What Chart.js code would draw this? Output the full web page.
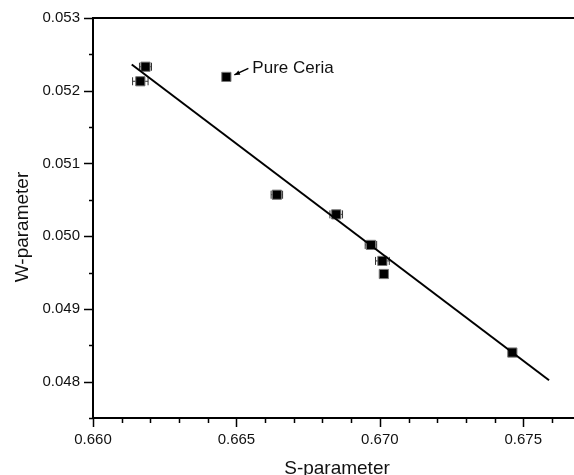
<!DOCTYPE html>
<html>
<head>
<meta charset="utf-8">
<script src="https://cdn.jsdelivr.net/npm/chart.js@4"></script>
<style>
  html, body { margin: 0; padding: 0; background: #fff; }
  canvas { display: block; }
</style>
</head>
<body>
<canvas id="graficoSW" width="574" height="475"></canvas>
<script>
// S and W parameters of each sample, with their uncertainties
const sParam = [0.66183, 0.66165, 0.66465, 0.66641, 0.66848, 0.66969, 0.67009, 0.67014, 0.67462];
const wParam = [0.05233, 0.05213, 0.05219, 0.05057, 0.05030, 0.04988, 0.04966, 0.04948, 0.04840];
const sErr = [0.00021, 0.00027, 0.00010, 0.00020, 0.00022, 0.00020, 0.00024, 0, 0.00010];
const wErr = [0.00005, 0.00005, 0.00003, 0.00005, 0.00005, 0.00004, 0.00005, 0, 0.00003];

// linear fit, end points
const fitS = [0.66135, 0.67590];
const fitW = [0.05236, 0.04802];

// sample pointed at by the label
const labelIndex = 2;
const labelText = "Pure Ceria";

const fontFamily = "'Liberation Sans', Arial, sans-serif";
const textColor = "#111";

const extras = {
    id: "extras",
    beforeDatasetsDraw(chart) {
        const ctx = chart.ctx;
        const xs = chart.scales.x, ys = chart.scales.y;
        ctx.save();
        ctx.strokeStyle = "#333";
        ctx.lineWidth = 1;
        for (let i = 0; i < sParam.length; i++) {
            const px = xs.getPixelForValue(sParam[i]);
            const py = ys.getPixelForValue(wParam[i]);
            if (sErr[i] > 0) {
                const x1 = xs.getPixelForValue(sParam[i] - sErr[i]);
                const x2 = xs.getPixelForValue(sParam[i] + sErr[i]);
                ctx.beginPath();
                ctx.moveTo(x1, py); ctx.lineTo(x2, py);
                ctx.moveTo(x1, py - 4); ctx.lineTo(x1, py + 4);
                ctx.moveTo(x2, py - 4); ctx.lineTo(x2, py + 4);
                ctx.stroke();
            }
            if (wErr[i] > 0) {
                const y1 = ys.getPixelForValue(wParam[i] + wErr[i]);
                const y2 = ys.getPixelForValue(wParam[i] - wErr[i]);
                ctx.beginPath();
                ctx.moveTo(px, y1); ctx.lineTo(px, y2);
                ctx.moveTo(px - 4, y1); ctx.lineTo(px + 4, y1);
                ctx.moveTo(px - 4, y2); ctx.lineTo(px + 4, y2);
                ctx.stroke();
            }
        }
        ctx.restore();
    },
    afterDraw(chart) {
        const ctx = chart.ctx;
        const area = chart.chartArea;
        const xs = chart.scales.x, ys = chart.scales.y;
        ctx.save();
        ctx.strokeStyle = "#000";
        ctx.lineWidth = 2;

        // frame top
        ctx.beginPath();
        ctx.moveTo(area.left - 1, area.top);
        ctx.lineTo(area.right, area.top);
        ctx.stroke();

        // tick marks, major and minor
        ctx.lineWidth = 1.5;
        ctx.beginPath();
        for (let k = 0; k <= 11; k++) {
            const v = (475 + 5 * k) / 10000;
            const py = Math.round(ys.getPixelForValue(v)) + 0.5;
            const len = k % 2 === 1 ? 9 : 4;
            ctx.moveTo(area.left, py);
            ctx.lineTo(area.left - len, py);
        }
        for (let k = 0; k <= 16; k++) {
            const v = (660 + k) / 1000;
            const px = Math.round(xs.getPixelForValue(v)) + 0.5;
            const len = k % 5 === 0 ? 9 : 5;
            ctx.moveTo(px, area.bottom);
            ctx.lineTo(px, area.bottom + len);
        }
        ctx.stroke();

        // axis titles
        ctx.fillStyle = textColor;
        ctx.font = "19px " + fontFamily;
        ctx.textAlign = "center";
        ctx.textBaseline = "alphabetic";
        ctx.fillText("S-parameter", 337, 474);
        ctx.save();
        ctx.translate(28, 227);
        ctx.rotate(-Math.PI / 2);
        ctx.fillText("W-parameter", 0, 0);
        ctx.restore();

        // arrow label
        const mx = xs.getPixelForValue(sParam[labelIndex]);
        const my = ys.getPixelForValue(wParam[labelIndex]);
        const tx = mx + 22, ty = my - 8.5;
        const hx = mx + 8, hy = my - 2;
        ctx.lineWidth = 1.5;
        ctx.beginPath();
        ctx.moveTo(tx, ty);
        ctx.lineTo(hx, hy);
        ctx.stroke();
        const ang = Math.atan2(hy - ty, hx - tx);
        ctx.beginPath();
        ctx.moveTo(hx, hy);
        ctx.lineTo(hx - 6 * Math.cos(ang - 0.4), hy - 6 * Math.sin(ang - 0.4));
        ctx.lineTo(hx - 6 * Math.cos(ang + 0.4), hy - 6 * Math.sin(ang + 0.4));
        ctx.closePath();
        ctx.fillStyle = "#000";
        ctx.fill();
        ctx.fillStyle = textColor;
        ctx.font = "17px " + fontFamily;
        ctx.textAlign = "left";
        ctx.textBaseline = "middle";
        ctx.fillText(labelText, mx + 26, my - 9);
        ctx.restore();
    }
};

const pontos = sParam.map((s, i) => ({ x: s, y: wParam[i] }));
const reta = fitS.map((s, i) => ({ x: s, y: fitW[i] }));

function multipleOf(v, step) {
    const r = v / step;
    return Math.abs(r - Math.round(r)) < 1e-6;
}

// tick marks come from the plugin; the invisible grid ticks only push the labels out
const hiddenGrid = {
    display: true,
    drawOnChartArea: false,
    drawTicks: true,
    tickLength: 13,
    tickColor: "rgba(0,0,0,0)",
};

new Chart(document.getElementById("graficoSW").getContext("2d"), {
    type: "scatter",
    data: {
        datasets: [
            {
                label: "ajuste",
                type: "line",
                data: reta,
                borderColor: "#000",
                borderWidth: 2,
                pointRadius: 0,
                fill: false,
            },
            {
                label: "amostras",
                data: pontos,
                pointStyle: "rect",
                pointRadius: 6.5,
                backgroundColor: "#000",
                borderColor: "#777",
                borderWidth: 1,
            },
        ],
    },
    options: {
        responsive: false,
        animation: false,
        devicePixelRatio: 1,
        layout: {
            autoPadding: false,
            padding: { top: 18, right: 0, left: 0, bottom: 0 },
        },
        plugins: {
            legend: { display: false },
            tooltip: { enabled: false },
        },
        scales: {
            x: {
                type: "linear",
                min: 0.660,
                max: 0.67677,
                border: { display: true, color: "#000", width: 2 },
                grid: hiddenGrid,
                ticks: {
                    stepSize: 0.001,
                    autoSkip: false,
                    maxRotation: 0,
                    padding: 0,
                    color: textColor,
                    font: { size: 15, family: fontFamily },
                    callback: (v) => (multipleOf(v, 0.005) ? v.toFixed(3) : ""),
                },
                afterFit(scale) {
                    scale.height = 57;
                    scale.paddingLeft = 0;
                    scale.paddingRight = 0;
                },
            },
            y: {
                type: "linear",
                min: 0.0475,
                max: 0.053,
                border: { display: true, color: "#000", width: 2 },
                grid: hiddenGrid,
                ticks: {
                    stepSize: 0.0005,
                    autoSkip: false,
                    padding: 0,
                    color: textColor,
                    font: { size: 15, family: fontFamily },
                    callback: (v) => (multipleOf(v, 0.001) ? v.toFixed(3) : ""),
                },
                afterFit(scale) {
                    scale.width = 93;
                    scale.paddingTop = 0;
                    scale.paddingBottom = 0;
                },
            },
        },
    },
    plugins: [extras],
});
</script>
</body>
</html>
